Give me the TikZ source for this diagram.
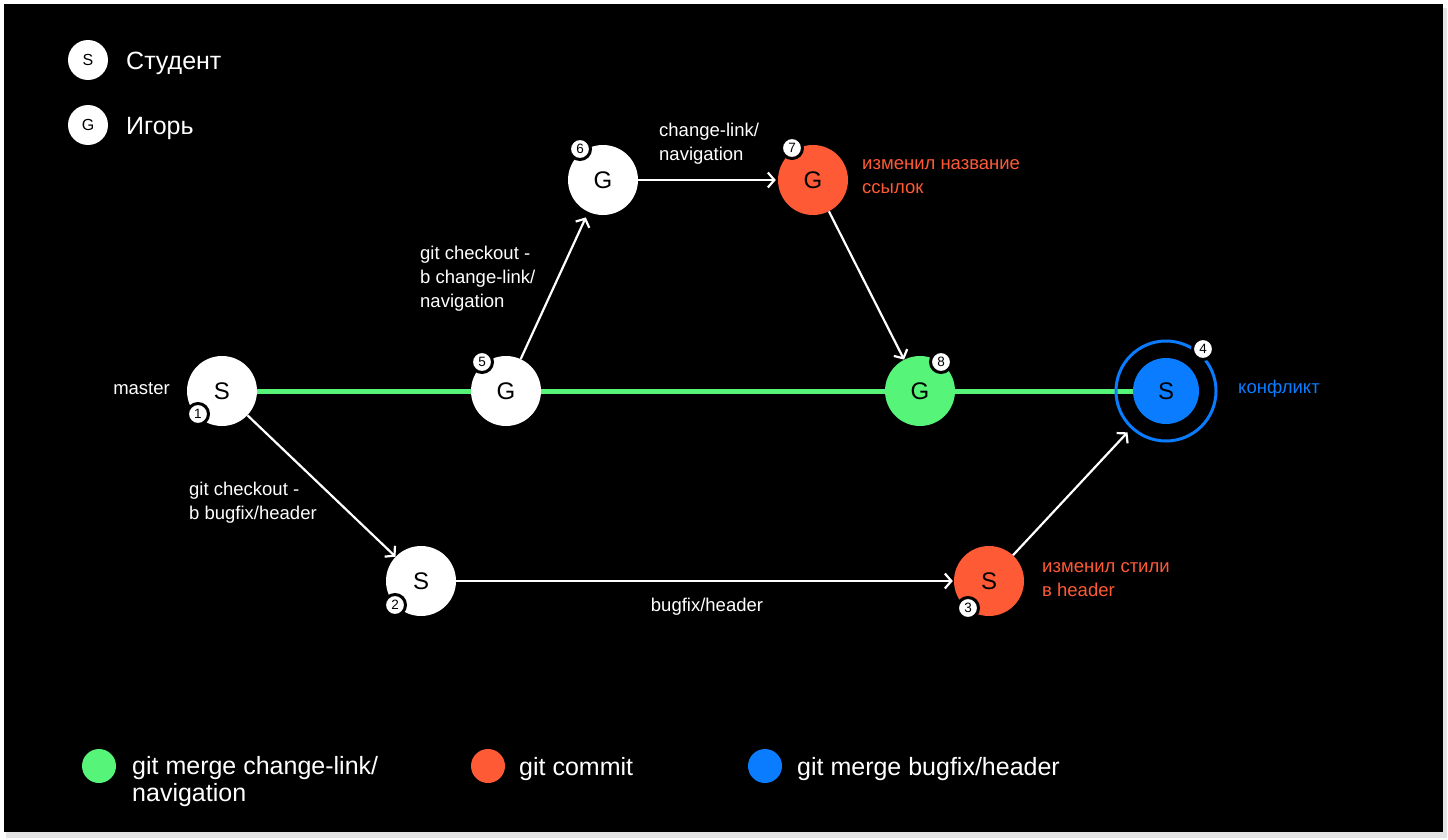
\documentclass[tikz,border=0pt]{standalone}
\usepackage{fontspec}
\setmainfont{Liberation Sans}
\usetikzlibrary{arrows.meta,backgrounds}
\definecolor{cgreen}{HTML}{57F47A}
\definecolor{corange}{HTML}{FF5A36}
\definecolor{cblue}{HTML}{0A7CFF}
\definecolor{shadow}{HTML}{E4E4E4}
\begin{document}
\begin{tikzpicture}[x=1pt,y=-1pt,
  commit/.style={circle,minimum size=70pt,inner sep=0pt,font=\fontsize{24}{26}\selectfont,text=black},
  badge/.style={circle,fill=white,draw=black,line width=3pt,minimum size=21pt,inner sep=0pt,font=\fontsize{13.5}{14}\selectfont,text=black},
  lbl/.style={text=white,font=\fontsize{18.5}{24}\selectfont,align=left,inner sep=0pt},
  olbl/.style={lbl,text=corange},
  arr/.style={draw=white,line width=2.2pt,-{Straight Barb[length=6.5pt,width=15pt,line width=2.2pt]}},
  legc/.style={circle,fill=white,minimum size=40pt,inner sep=0pt,font=\fontsize{16}{18}\selectfont,text=black},
  legt/.style={text=white,font=\fontsize{25}{27}\selectfont,anchor=west,inner sep=0pt,align=left},
  botc/.style={circle,minimum size=34pt,inner sep=0pt},
]
\useasboundingbox (0,0) rectangle (1448,840);

% legend top
\node[legc] (ls) at (88,60) {S};
\node[legt] (lst) at (126,63) {Студент};
\node[legc] (lg) at (88,125) {G};
\node[legt] (lgt) at (126,128) {Игорь};

% commits
\node[commit,fill=white] (n1) at (222,391) {S};
\node[commit,fill=white] (n5) at (506,391) {G};
\node[commit,fill=cgreen] (n8) at (920,391) {G};
\node[commit,fill=cblue,minimum size=66pt] (n4) at (1166,391) {S};
\node[circle,draw=cblue,line width=3pt,minimum size=100pt,inner sep=0pt] (r4) at (1166,391) {};
\node[commit,fill=white] (n6) at (603,180) {G};
\node[commit,fill=corange] (n7) at (813,180) {G};
\node[commit,fill=white] (n2) at (421,581) {S};
\node[commit,fill=corange] (n3) at (989,581) {S};

% badges
\node[badge] (b1) at (198,414) {1};
\node[badge] (b5) at (482,362) {5};
\node[badge] (b8) at (941,362) {8};
\node[badge] (b4) at (1203,349) {4};
\node[badge] (b6) at (580,149) {6};
\node[badge] (b7) at (792,148) {7};
\node[badge] (b2) at (395,605) {2};
\node[badge] (b3) at (968,608) {3};

% background and master line
\begin{pgfonlayer}{background}
\fill[white] (0,0) rectangle (1448,840);
\fill[shadow] (6,8) rectangle (1447,838);
\fill[black] (4,4) rectangle (1443,832);
\draw[cgreen,line width=5pt] (n1.center) -- (n4.center);
\end{pgfonlayer}

% arrows
\draw[arr,shorten >=6pt] (n5) -- (n6);
\draw[arr,shorten >=2pt] (n6) -- (n7);
\draw[arr] (n7) -- (n8);
\draw[arr] (n1) -- (n2);
\draw[arr,shorten >=1pt] (n2) -- (n3);
\draw[arr,shorten >=5pt] (n3) -- (r4);

% labels
\node[lbl,anchor=east] (lmaster) at (170,389) {master};
\node[lbl,anchor=north west] (l56) at (420,246) {git checkout -\\b change-link/\\navigation};
\node[lbl,anchor=north west] (l67) at (659,123) {change-link/\\navigation};
\node[olbl,anchor=north west] (l7) at (862,159) {изменил название\\ссылок};
\node[lbl,anchor=north west] (l12) at (189,482) {git checkout -\\b bugfix/header};
\node[lbl] (l23) at (707,607) {bugfix/header};
\node[olbl,anchor=north west] (l3) at (1042,562) {изменил стили\\в header};
\node[lbl,text=cblue,anchor=west] (l4) at (1238,389) {конфликт};

% bottom legend
\node[botc,fill=cgreen] (bg) at (99,766) {};
\node[legt,anchor=north west] (bgt) at (132,756) {git merge change-link/\\navigation};
\node[botc,fill=corange] (bo) at (488,766) {};
\node[legt] (bot) at (519,769) {git commit};
\node[botc,fill=cblue] (bb) at (765,766) {};
\node[legt] (bbt) at (797,769) {git merge bugfix/header};
\end{tikzpicture}
\end{document}
